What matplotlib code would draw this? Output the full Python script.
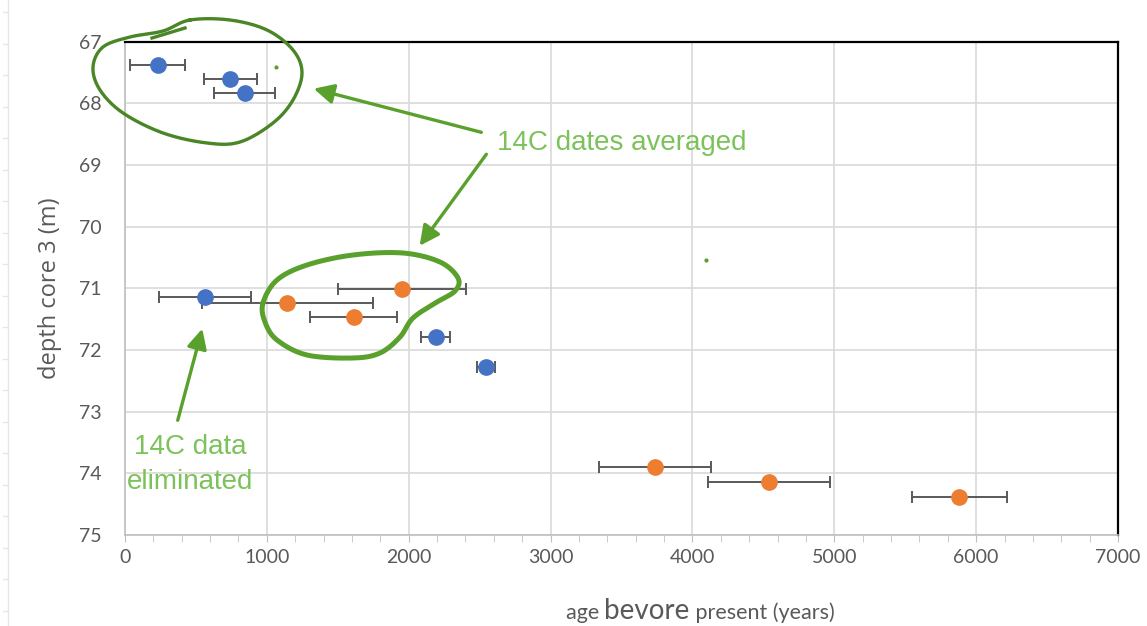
import numpy as np
import matplotlib
matplotlib.use("Agg")
import matplotlib.pyplot as plt
from matplotlib.ticker import MultipleLocator
from matplotlib.transforms import Affine2D
from matplotlib.patches import FancyArrowPatch
from matplotlib.lines import Line2D

# --- data (age in years BP, depth in m, horizontal error) ---
blue_age = [230, 743, 845, 565, 2190, 2545]
blue_depth = [67.38, 67.60, 67.83, 71.14, 71.79, 72.27]
blue_err = [195, 188, 215, 322, 102, 66]

orange_age = [1955, 1144, 1612, 3735, 4541, 5882]
orange_depth = [71.01, 71.24, 71.47, 73.90, 74.14, 74.38]
orange_err = [451, 602, 305, 395, 432, 335]

x_ticks = [0, 1000, 2000, 3000, 4000, 5000, 6000, 7000]
y_ticks = [67, 68, 69, 70, 71, 72, 73, 74, 75]

BLUE = "#4472C4"
ORANGE = "#ED7D31"
GRID = "#D9D9D9"
LABEL = "#595959"
G_DARK = "#4A8526"
G_MID = "#5AA02C"
G_TEXT = "#7CC25A"

W, H = 1147, 626
fig = plt.figure(figsize=(W / 100, H / 100), dpi=100)
ax = fig.add_axes([125 / W, 1 - 535 / H, (1118 - 125) / W, (535 - 41.7) / H])

# error bars + markers
for age, depth, err, col in [(blue_age, blue_depth, blue_err, BLUE),
                             (orange_age, orange_depth, orange_err, ORANGE)]:
    ax.errorbar(age, depth, xerr=err, fmt="o", color=col, ms=11,
                ecolor="#595959", elinewidth=1.4, capsize=4, capthick=1.4,
                zorder=3)

ax.set_xlim(0, 7000)
ax.set_ylim(75, 67)
ax.set_xticks(x_ticks)
ax.set_yticks(y_ticks)
ax.xaxis.set_minor_locator(MultipleLocator(200))
ax.grid(True, which="major", color=GRID, linewidth=1.2, zorder=0)
ax.set_axisbelow(True)

for side in ["top", "right"]:
    ax.spines[side].set_color("black")
    ax.spines[side].set_linewidth(1.6)
for side in ["left", "bottom"]:
    ax.spines[side].set_color("#BFBFBF")
    ax.spines[side].set_linewidth(1.2)

ax.tick_params(axis="y", length=0, pad=17, labelsize=14, labelcolor=LABEL)
ax.tick_params(axis="x", which="both", length=5, color="#BFBFBF",
               pad=5, labelsize=14, labelcolor=LABEL)
for lab in ax.get_xticklabels() + ax.get_yticklabels():
    lab.set_family("Lato")

ax.set_ylabel("depth core 3 (m)", fontsize=17, color=LABEL,
              family="Open Sans", labelpad=12)

# x label with mixed sizes
renderer = fig.canvas.get_renderer()
pieces = [("age ", 15.5), ("bevore", 20), (" present (years)", 15.5)]
texts = []
for s, size in pieces:
    texts.append(fig.text(0, 0, s, fontsize=size, color=LABEL,
                          family="Lato", va="baseline", ha="left"))
widths = [t.get_window_extent(renderer).width for t in texts]
x0 = 700 - sum(widths) / 2
for t, w in zip(texts, widths):
    t.set_position((x0 / W, 1 - 619 / H))
    x0 += w

# --- hand-drawn annotations, in reference pixel coords ---
px = Affine2D().scale(1 / W, -1 / H).translate(0, 1) + fig.transFigure


def smooth_closed(pts, n=20):
    p = np.array(pts, dtype=float)
    out = []
    k = len(p)
    for i in range(k):
        p0, p1, p2, p3 = p[i - 1], p[i], p[(i + 1) % k], p[(i + 2) % k]
        for t in np.linspace(0, 1, n, endpoint=False):
            t2, t3 = t * t, t * t * t
            out.append(0.5 * ((2 * p1) + (-p0 + p2) * t
                              + (2 * p0 - 5 * p1 + 4 * p2 - p3) * t2
                              + (-p0 + 3 * p1 - 3 * p2 + p3) * t3))
    out.append(out[0])
    return np.array(out)


top_loop = [(190, 20), (230, 20), (267, 30), (293, 50), (302, 73),
            (293, 100), (273, 123), (240, 142), (207, 143), (163, 133),
            (123, 113), (100, 90), (93, 67), (103, 47), (130, 37), (163, 31)]
c = smooth_closed(top_loop)
fig.add_artist(Line2D(c[:, 0], c[:, 1], transform=px, color=G_DARK, lw=2.4))
fig.add_artist(Line2D([152, 185], [38, 28], transform=px, color=G_DARK, lw=2.4))

mid_loop = [(263, 303), (277, 280), (307, 265), (353, 255), (403, 253),
            (440, 262), (458, 278), (455, 291), (437, 302), (413, 318),
            (400, 337), (380, 353), (353, 358), (307, 355), (277, 340),
            (265, 322)]
c = smooth_closed(mid_loop)
fig.add_artist(Line2D(c[:, 0], c[:, 1], transform=px, color=G_MID, lw=3.6))

for (xa, ya), (xb, yb) in [((484, 133), (311, 88)),
                           ((488, 152), (418, 248)),
                           ((177, 423), (203, 326))]:
    fig.add_artist(FancyArrowPatch((xa, ya), (xb, yb), transform=px,
                                   arrowstyle="-|>,head_length=12,head_width=6",
                                   color=G_MID, lw=2.4, mutation_scale=1))

fig.text(497 / W, 1 - 143 / H, "14C dates averaged", color=G_TEXT,
         fontsize=20, family="Liberation Sans", va="center", ha="left")
fig.text(190 / W, 1 - 447 / H, "14C data", color=G_TEXT,
         fontsize=20, family="Liberation Sans", va="center", ha="center")
fig.text(190 / W, 1 - 482 / H, "eliminated", color=G_TEXT,
         fontsize=20, family="Liberation Sans", va="center", ha="center")

# stray pen dots
fig.add_artist(Line2D([276, 706], [67, 260], transform=px, ls="none",
                      marker="o", ms=2, color=G_MID))

# faint ruler at the left edge
fig.add_artist(Line2D([8, 8], [0, H], transform=px, color="#E6E6E6", lw=1))
for yy in np.arange(12, H, 31.5):
    fig.add_artist(Line2D([3, 8], [yy, yy], transform=px, color="#E6E6E6", lw=1))

fig.savefig("out.png", dpi=100)
